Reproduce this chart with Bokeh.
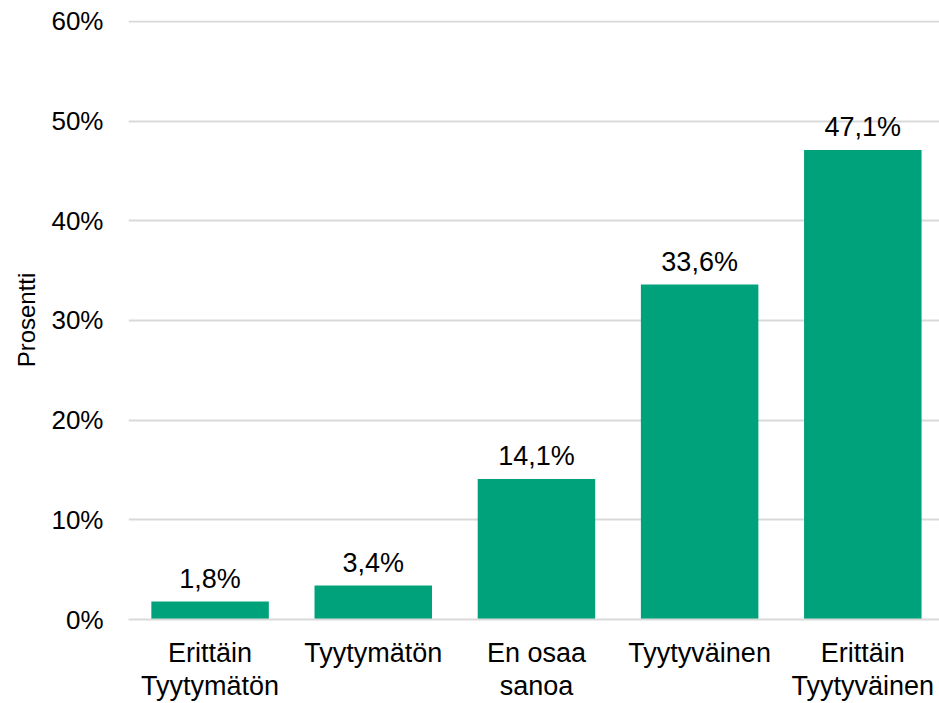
from bokeh.plotting import figure
from bokeh.models import ColumnDataSource, Range1d, FixedTicker, LabelSet
from bokeh.core.properties import value
from bokeh.embed import file_html
from bokeh.resources import INLINE

categories = ["Erittäin\nTyytymätön", "Tyytymätön", "En osaa\nsanoa", "Tyytyväinen", "Erittäin\nTyytyväinen"]
values = [1.8, 3.4, 14.1, 33.6, 47.1]
value_labels = ["1,8%", "3,4%", "14,1%", "33,6%", "47,1%"]
y_ticks = [0, 10, 20, 30, 40, 50, 60]
y_tick_labels = ["0%", "10%", "20%", "30%", "40%", "50%", "60%"]

FONT = "Liberation Sans"
BAR = "#00A27C"
GRID = "#D9D9D9"

xs = list(range(len(categories)))
src = ColumnDataSource(dict(x=xs, top=values, lab=value_labels))

p = figure(width=939, height=703, output_backend="svg", toolbar_location=None,
           x_range=Range1d(-0.5, 4.47), y_range=Range1d(0, 60.1),
           min_border_left=128, min_border_right=0, min_border_top=20, min_border_bottom=82)
p.outline_line_color = None
p.background_fill_color = "white"

p.vbar(x="x", top="top", width=0.72, bottom=0, source=src, fill_color=BAR, line_color=None)

labels = LabelSet(x="x", y="top", text="lab", source=src, text_align="center",
                  text_baseline="alphabetic", y_offset=14, text_font=value(FONT),
                  text_font_size="27px", text_color="black")
p.add_layout(labels)

p.xgrid.grid_line_color = None
p.ygrid.grid_line_color = GRID
p.ygrid.grid_line_width = 2
p.ygrid.ticker = FixedTicker(ticks=y_ticks)

p.yaxis.ticker = FixedTicker(ticks=y_ticks)
p.yaxis.major_label_overrides = {t: l for t, l in zip(y_ticks, y_tick_labels)}
p.yaxis.axis_line_color = None
p.yaxis.major_tick_line_color = None
p.yaxis.minor_tick_line_color = None
p.yaxis.major_tick_out = 0
p.yaxis.major_label_text_font = FONT
p.yaxis.major_label_text_font_size = "26px"
p.yaxis.major_label_text_color = "black"
p.yaxis.major_label_standoff = 25
p.yaxis.axis_label = "Prosentti"
p.yaxis.axis_label_text_font = FONT
p.yaxis.axis_label_text_font_size = "24px"
p.yaxis.axis_label_text_font_style = "normal"
p.yaxis.axis_label_text_color = "black"
p.yaxis.axis_label_standoff = 8

p.xaxis.ticker = FixedTicker(ticks=xs)
p.xaxis.major_label_overrides = {x: c for x, c in zip(xs, categories)}
p.xaxis.axis_line_color = GRID
p.xaxis.axis_line_width = 2
p.xaxis.major_tick_line_color = None
p.xaxis.minor_tick_line_color = None
p.xaxis.major_tick_out = 0
p.xaxis.major_label_text_font = FONT
p.xaxis.major_label_text_font_size = "27px"
p.xaxis.major_label_text_line_height = 1.1
p.xaxis.major_label_text_color = "black"
p.xaxis.major_label_standoff = 18

open("out.html", "w").write(file_html(p, INLINE))
